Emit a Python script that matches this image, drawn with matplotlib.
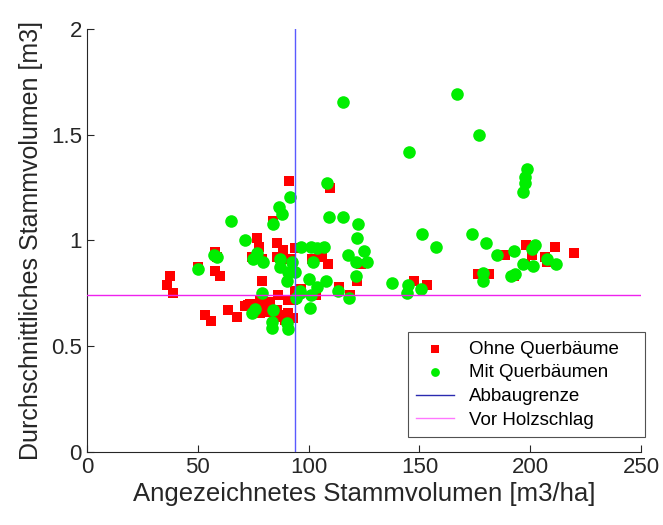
import matplotlib
matplotlib.use("Agg")
import matplotlib.pyplot as plt

plt.rcParams['font.family'] = ['Liberation Sans', 'DejaVu Sans']

# Bestaende ohne Querbaeume: (angezeichnetes Volumen, mittleres Stammvolumen)
ohne_x = [36.1, 37.5, 39.0, 50.1, 53.2, 56.0, 57.8, 58.7, 57.8, 60.0,
          63.6, 67.7, 71.3, 72.7, 73.6, 76.7, 78.0, 79.4, 81.7, 82.6,
          86.2, 90.7, 93.0, 94.8, 85.7, 90.2, 78.0, 87.1, 90.7, 93.0,
          82.6, 89.4, 79.0, 91.2, 84.0, 76.7, 77.6, 85.7, 88.4, 93.9,
          74.5, 79.0, 85.7, 91.6, 101.5, 106.0, 108.8, 109.7, 123.6, 121.8,
          113.7, 118.7, 103.3, 96.6, 93.9, 147.6, 153.4, 176.4, 181.4, 188.6,
          192.7, 198.1, 200.8, 197.7, 206.7, 207.6, 211.2, 219.8]
ohne_y = [0.79, 0.83, 0.75, 0.875, 0.65, 0.62, 0.945, 0.92, 0.855, 0.83,
          0.67, 0.64, 0.69, 0.695, 0.70, 0.70, 0.72, 0.685, 0.71, 0.705,
          0.74, 0.72, 0.72, 0.75, 0.67, 0.65, 0.655, 0.64, 0.655, 0.635,
          0.66, 0.625, 0.81, 1.28, 1.09, 1.01, 0.97, 0.99, 0.955, 0.965,
          0.92, 0.91, 0.92, 0.91, 0.91, 0.92, 0.89, 1.25, 0.89, 0.81,
          0.78, 0.74, 0.74, 0.77, 0.76, 0.81, 0.79, 0.84, 0.84, 0.93,
          0.83, 0.98, 0.93, 0.89, 0.92, 0.90, 0.97, 0.94]

# Bestaende mit Querbaeumen
mit_x = [50.1, 57.3, 58.5, 65.0, 71.3, 76.7, 74.9, 79.4, 87.1, 92.5,
         87.1, 90.7, 93.9, 90.2, 79.0, 94.3, 96.1, 75.8, 74.5, 84.0,
         83.5, 83.5, 90.2, 90.7, 91.6, 86.6, 88.0, 83.9, 96.6, 101.0,
         103.8, 107.0, 108.3, 109.2, 115.5, 122.3, 121.8, 117.8, 125.0, 126.4,
         121.4, 102.0, 100.2, 107.9, 103.8, 121.4, 113.3, 118.2, 101.0, 96.1,
         100.6, 115.5, 167.0, 176.9, 145.3, 198.6, 197.7, 197.7, 196.8, 151.2,
         157.5, 173.7, 180.0, 185.0, 192.7, 202.2, 200.8, 196.8, 201.3, 207.6,
         211.6, 178.7, 178.7, 191.3, 193.1, 137.6, 144.9, 144.4, 150.7]
mit_y = [0.865, 0.93, 0.92, 1.09, 1.0, 0.94, 0.91, 0.90, 0.91, 0.90,
         0.875, 0.85, 0.85, 0.81, 0.75, 0.73, 0.75, 0.675, 0.655, 0.67,
         0.615, 0.585, 0.61, 0.58, 1.205, 1.16, 1.125, 1.08, 0.97, 0.97,
         0.965, 0.97, 1.27, 1.11, 1.11, 1.08, 1.01, 0.93, 0.95, 0.90,
         0.90, 0.90, 0.82, 0.81, 0.78, 0.83, 0.76, 0.73, 0.74, 0.76,
         0.68, 1.655, 1.69, 1.50, 1.42, 1.34, 1.30, 1.27, 1.23, 1.03,
         0.97, 1.03, 0.99, 0.93, 0.95, 0.98, 0.96, 0.89, 0.88, 0.91,
         0.89, 0.845, 0.81, 0.83, 0.84, 0.80, 0.79, 0.75, 0.77]

abbaugrenze = 93.9
vor_holzschlag = 0.742

fig = plt.figure(figsize=(6.63, 5.25), dpi=100)
ax = fig.add_axes([0.131, 0.139, 0.836, 0.806])

ax.scatter(ohne_x, ohne_y, marker='s', s=52, color='#ff0000', linewidths=0,
           label='Ohne Querbäume', zorder=3)
ax.scatter(mit_x, mit_y, marker='o', s=82, color='#00ee00', linewidths=0,
           label='Mit Querbäumen', zorder=3)
ax.axvline(abbaugrenze, color='#5a5aff', lw=1, label='Abbaugrenze', zorder=4)
ax.axhline(vor_holzschlag, color='#ee22ee', lw=1, label='Vor Holzschlag', zorder=4)

ax.set_xlim(0, 250)
ax.set_ylim(0, 2)
ax.set_xticks([0, 50, 100, 150, 200, 250])
ax.set_yticks([0, 0.5, 1, 1.5, 2])
ax.set_yticklabels(['0', '0.5', '1', '1.5', '2'])

for side in ('top', 'right'):
    ax.spines[side].set_visible(False)
for side in ('left', 'bottom'):
    ax.spines[side].set_color('#262626')
    ax.spines[side].set_linewidth(0.8)
ax.tick_params(direction='in', length=5, width=0.8, color='#262626',
               labelsize=16, labelcolor='#262626')

ax.set_xlabel('Angezeichnetes Stammvolumen [m3/ha]', fontsize=18.5, color='#262626',
              labelpad=3)
ax.set_ylabel('Durchschnittliches Stammvolumen [m3]', fontsize=18, color='#262626',
              labelpad=6)

# legend box stretched to a fixed width, entries left-aligned inside
leg = ax.legend(loc='lower left', mode='expand', fontsize=13.5, frameon=True,
                fancybox=False, edgecolor='#262626', borderpad=0.45,
                handlelength=2.0, labelspacing=0.35, scatterpoints=1,
                borderaxespad=0, bbox_to_anchor=(0.579, 0.035, 0.428, 0.2))
leg.get_frame().set_linewidth(0.8)
leg.legend_handles[2].set_color('#2a2ab0')
leg.legend_handles[3].set_color('#ff77ff')
for h in leg.legend_handles[:2]:
    h.set_sizes([40])

fig.savefig('out.png', dpi=100)
